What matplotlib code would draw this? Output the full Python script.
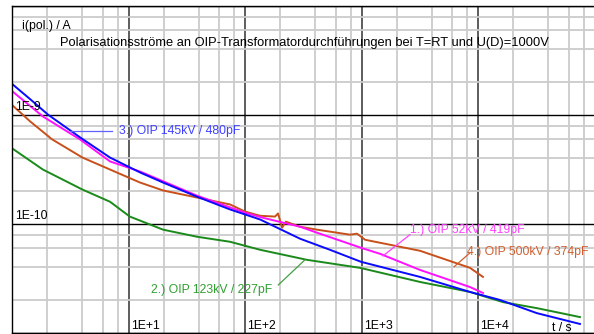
import numpy as np
import matplotlib
matplotlib.use("Agg")
import matplotlib.pyplot as plt
from matplotlib.ticker import LogLocator, NullFormatter

plt.rcParams['font.family'] = ['Liberation Sans', 'DejaVu Sans']

# values (t in s, i in A)
t_blue = [1.0, 1.42, 2.02, 3.81, 6.9, 12.5, 19.7, 38.5, 74, 134, 295, 533, 984,
          3160, 8490, 15350, 31900, 74600]
i_blue = [1.92e-9, 1.40e-9, 1.01e-9, 6.24e-10, 4.07e-10, 2.97e-10, 2.40e-10,
          1.78e-10, 1.36e-10, 1.10e-10, 7.33e-11, 5.80e-11, 4.50e-11, 3.27e-11,
          2.38e-11, 2.01e-11, 1.52e-11, 1.21e-11]

t_mag = [1.0, 1.83, 3.81, 6.9, 12.5, 38.5, 99.5, 142, 295, 413, 984, 1432,
         3160, 8490, 10960]
i_mag = [1.65e-9, 9.7e-10, 5.97e-10, 3.75e-10, 3.03e-10, 1.82e-10, 1.27e-10,
         1.14e-10, 9.44e-11, 8.32e-11, 6.05e-11, 5.33e-11, 3.79e-11, 2.64e-11,
         2.33e-11]

t_org = [1.0, 1.42, 2.2, 4.0, 6.9, 12.5, 19.7, 38.5, 74, 99.5, 134, 180, 191,
         207, 223, 295, 413, 792, 910, 1067, 1432, 3160, 8490, 10960]
i_org = [1.23e-9, 8.75e-10, 5.97e-10, 4.07e-10, 3.16e-10, 2.40e-10, 2.03e-10,
         1.75e-10, 1.51e-10, 1.30e-10, 1.19e-10, 1.17e-10, 1.25e-10, 9.25e-11,
         1.05e-10, 9.44e-11, 8.87e-11, 7.98e-11, 8.15e-11, 7.17e-11, 6.73e-11,
         5.68e-11, 3.96e-11, 3.27e-11]

t_grn = [1.0, 1.83, 4.0, 6.9, 10.2, 19.7, 38.5, 74, 134, 339, 966, 3160, 8490,
         16290, 31900, 74600]
i_grn = [4.93e-10, 3.16e-10, 2.07e-10, 1.60e-10, 1.17e-10, 8.87e-11, 7.64e-11,
         6.87e-11, 5.80e-11, 4.69e-11, 3.96e-11, 2.94e-11, 2.38e-11, 1.92e-11,
         1.69e-11, 1.40e-11]

x_ticks = [1e1, 1e2, 1e3, 1e4]
x_labels = ["1E+1", "1E+2", "1E+3", "1E+4"]
y_ticks = [1e-10, 1e-9]
y_labels = ["1E-10", "1E-9"]

c_blue, c_mag, c_org, c_grn = "#0a0aff", "#ff10ff", "#c8501a", "#1a8a1a"

fig = plt.figure(figsize=(5.94, 3.34), dpi=100)
ax = fig.add_axes([12.3 / 594, 1 / 334, 582.5 / 594, 327 / 334])
ax.set_xscale("log")
ax.set_yscale("log")
ax.set_xlim(1, 1e5)
ax.set_ylim(1e-11, 1e-8)

ax.xaxis.set_major_locator(LogLocator(base=10, numticks=10))
ax.xaxis.set_minor_locator(LogLocator(base=10, subs=[2, 4, 6, 8], numticks=10))
ax.yaxis.set_major_locator(LogLocator(base=10, numticks=10))
ax.yaxis.set_minor_locator(LogLocator(base=10, subs=[2, 4, 6, 8], numticks=10))
ax.xaxis.set_major_formatter(NullFormatter())
ax.xaxis.set_minor_formatter(NullFormatter())
ax.yaxis.set_major_formatter(NullFormatter())
ax.yaxis.set_minor_formatter(NullFormatter())
ax.tick_params(which="both", length=0)

ax.grid(which="minor", color="#cccccc", lw=1.3)
ax.grid(which="major", axis="x", color="#505050", lw=1.3)
ax.grid(which="major", axis="y", color="black", lw=1.0)
for s in ["left", "top", "bottom"]:
    ax.spines[s].set_color("black")
    ax.spines[s].set_linewidth(1.0)
ax.spines["right"].set_visible(False)

ax.plot(t_grn, i_grn, color=c_grn, lw=1.4)
ax.plot(t_org, i_org, color=c_org, lw=1.4)
ax.plot(t_mag, i_mag, color=c_mag, lw=1.4)
ax.plot(t_blue, i_blue, color=c_blue, lw=1.4)

fs = 8.8
for xv, lab in zip(x_ticks, x_labels):
    ax.text(xv * 1.04, 1.03e-11, lab, fontsize=fs, ha="left", va="bottom")
for yv, lab in zip(y_ticks, y_labels):
    ax.text(1.06, yv * 1.04, lab, fontsize=fs, ha="left", va="bottom")

ax.text(1.21, 6.6e-9, "i(pol.) / A", fontsize=fs, ha="left", va="center")
ax.text(42900, 1.1e-11, "t / s", fontsize=fs, ha="left", va="center")
fig.text(0.512, 1 - 43 / 334,
         "Polarisationsströme an OIP-Transformatordurchführungen bei T=RT und U(D)=1000V",
         fontsize=9.3, ha="center", va="center")

# curve labels with leader lines
ax.plot([3.13, 7.19], [7.08e-10, 7.08e-10], color="#6060ff", lw=0.9)
ax.text(8.26, 7.08e-10, "3.) OIP 145kV / 480pF", color="#4040ff", fontsize=fs,
        ha="left", va="center")
ax.plot([192, 325], [2.76e-11, 4.69e-11], color="#40a040", lw=0.9)
ax.text(172, 2.48e-11, "2.) OIP 123kV / 227pF", color="#30a030", fontsize=fs,
        ha="right", va="center")
ax.plot([1520, 2590], [5.1e-11, 7.98e-11], color="#ff40ff", lw=0.9)
ax.text(2590, 8.87e-11, "1.) OIP 52kV / 419pF", color="#ff40ff", fontsize=fs,
        ha="left", va="center")
ax.plot([6190, 8490], [4.05e-11, 5.44e-11], color="#d06030", lw=0.9)
ax.text(8000, 5.56e-11, "4.) OIP 500kV / 374pF", color="#d06030", fontsize=fs,
        ha="left", va="center")

fig.savefig("out.png", dpi=100)
